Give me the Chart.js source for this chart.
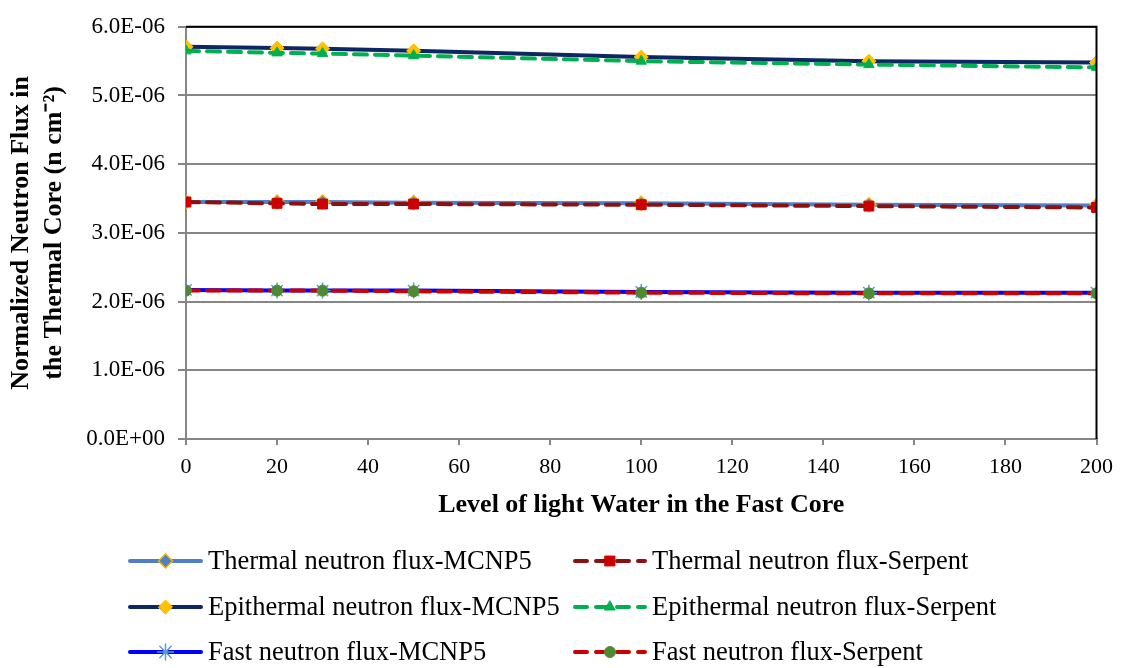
<!DOCTYPE html>
<html>
<head>
<meta charset="utf-8">
<script src="https://cdn.jsdelivr.net/npm/chart.js@4/dist/chart.umd.min.js"></script>
<style>
  html, body { margin: 0; padding: 0; background: #ffffff; }
  #wrap { width: 1122px; height: 668px; position: relative; }
</style>
</head>
<body>
<div id="wrap"><canvas id="c" width="1122" height="668"></canvas></div>
<script>
// ---- data ----
const levels = [0, 20, 30, 50, 100, 150, 200];
const thermalMCNP5 = [3.45e-6, 3.45e-6, 3.45e-6, 3.44e-6, 3.43e-6, 3.41e-6, 3.40e-6];
const thermalSerpent = [3.45e-6, 3.43e-6, 3.42e-6, 3.42e-6, 3.41e-6, 3.39e-6, 3.37e-6];
const epithermalMCNP5 = [5.71e-6, 5.69e-6, 5.68e-6, 5.65e-6, 5.56e-6, 5.50e-6, 5.48e-6];
const epithermalSerpent = [5.65e-6, 5.62e-6, 5.61e-6, 5.58e-6, 5.50e-6, 5.45e-6, 5.41e-6];
const fastMCNP5 = [2.17e-6, 2.16e-6, 2.16e-6, 2.16e-6, 2.14e-6, 2.13e-6, 2.13e-6];
const fastSerpent = [2.16e-6, 2.16e-6, 2.16e-6, 2.15e-6, 2.13e-6, 2.12e-6, 2.12e-6];
const seriesNames = [
  'Thermal neutron flux-MCNP5', 'Thermal neutron flux-Serpent',
  'Epithermal neutron flux-MCNP5', 'Epithermal neutron flux-Serpent',
  'Fast neutron flux-MCNP5', 'Fast neutron flux-Serpent'
];
const xTitle = 'Level of light Water in the Fast Core';
const yTitle = ['Normalized Neutron Flux in', 'the Thermal Core (n cm\u207B\u00B2)'];

function pts(vals) { return levels.map((x, i) => ({ x: x, y: vals[i] })); }

const SERIF = '"Liberation Serif", "Times New Roman", serif';

const datasets = [
  { label: seriesNames[0], data: pts(thermalMCNP5), borderColor: '#4F7FC8', borderWidth: 4,
    pointStyle: 'rectRot', pointRadius: 7, pointBackgroundColor: '#4F7FC8', pointBorderColor: '#F0B400', pointBorderWidth: 1.5, order: 2 },
  { label: seriesNames[1], data: pts(thermalSerpent), borderColor: '#8B1010', borderWidth: 4, borderDash: [13, 8],
    borderCapStyle: 'round',
    pointStyle: 'rect', pointRadius: 7, pointBackgroundColor: '#CC0000', pointBorderColor: '#CC0000', pointBorderWidth: 1, order: 1 },
  { label: seriesNames[2], data: pts(epithermalMCNP5), borderColor: '#0E2661', borderWidth: 4,
    pointStyle: 'rectRot', pointRadius: 7, pointBackgroundColor: '#FFC000', pointBorderColor: '#FFC000', pointBorderWidth: 1, order: 2 },
  { label: seriesNames[3], data: pts(epithermalSerpent), borderColor: '#00B050', borderWidth: 4, borderDash: [13, 8],
    borderCapStyle: 'round',
    pointStyle: 'triangle', pointRadius: 6, pointBackgroundColor: '#00B050', pointBorderColor: '#00B050', pointBorderWidth: 1, order: 1 },
  { label: seriesNames[4], data: pts(fastMCNP5), borderColor: '#0000FF', borderWidth: 4,
    pointStyle: 'star', pointRadius: 8, pointBackgroundColor: '#5B9BD5', pointBorderColor: '#5B9BD5', pointBorderWidth: 1.5, order: 2 },
  { label: seriesNames[5], data: pts(fastSerpent), borderColor: '#CC0000', borderWidth: 4, borderDash: [13, 8],
    borderCapStyle: 'round',
    pointStyle: 'circle', pointRadius: 5.5, pointBackgroundColor: '#4E8A34', pointBorderColor: '#4E8A34', pointBorderWidth: 1, order: 1 }
];

function fmtExp(v) {
  if (Math.abs(v) < 1e-20) return '0.0E+00';
  const s = v.toExponential(1); // e.g. 6.0e-6
  const m = s.split('e');
  let e = parseInt(m[1], 10);
  const sign = e < 0 ? '-' : '+';
  e = Math.abs(e);
  return m[0] + 'E' + sign + (e < 10 ? '0' + e : '' + e);
}

// frame (top & right black border) + custom legend
const framePlugin = {
  id: 'frame',
  afterDatasetsDraw(chart) {
    const { ctx, chartArea: a } = chart;
    ctx.save();
    ctx.strokeStyle = '#000000';
    ctx.lineWidth = 2;
    ctx.beginPath();
    ctx.moveTo(a.left, a.top);
    ctx.lineTo(a.right, a.top);
    ctx.lineTo(a.right, a.bottom);
    ctx.stroke();
    ctx.restore();
  }
};

const legendPlugin = {
  id: 'customLegend',
  afterDraw(chart) {
    const ctx = chart.ctx;
    const rows = [561, 607, 652];
    const cols = [{ x0: 130, x1: 201, tx: 208 }, { x0: 575, x1: 645, tx: 652 }];
    ctx.save();
    chart.data.datasets.forEach((ds, i) => {
      const col = cols[i % 2];
      const y = rows[Math.floor(i / 2)];
      ctx.save();
      ctx.strokeStyle = ds.borderColor;
      ctx.lineWidth = ds.borderWidth;
      ctx.lineCap = 'round';
      if (ds.borderDash) ctx.setLineDash([12, 9]); else ctx.setLineDash([]);
      ctx.beginPath();
      ctx.moveTo(col.x0, y);
      ctx.lineTo(col.x1, y);
      ctx.stroke();
      ctx.setLineDash([]);
      ctx.fillStyle = ds.pointBackgroundColor;
      ctx.strokeStyle = ds.pointBorderColor;
      ctx.lineWidth = ds.pointBorderWidth;
      Chart.helpers.drawPoint(ctx, { pointStyle: ds.pointStyle, radius: ds.pointRadius, borderWidth: ds.pointBorderWidth, rotation: 0 },
        (col.x0 + col.x1) / 2, y);
      ctx.restore();
      ctx.fillStyle = '#000000';
      ctx.font = '26.5px ' + SERIF;
      ctx.textBaseline = 'middle';
      ctx.textAlign = 'left';
      ctx.fillText(ds.label, col.tx, y + 1);
    });
    ctx.restore();
  }
};

new Chart(document.getElementById('c'), {
  type: 'line',
  data: { datasets: datasets },
  plugins: [framePlugin, legendPlugin],
  options: {
    responsive: false,
    animation: false,
    layout: { padding: { left: 0, top: 16, right: 22, bottom: 145 } },
    plugins: { legend: { display: false }, tooltip: { enabled: false } },
    elements: { line: { tension: 0, fill: false } },
    scales: {
      x: {
        type: 'linear', min: 0, max: 200,
        ticks: { stepSize: 20, color: '#000000', font: { family: SERIF, size: 22 }, padding: 9, maxRotation: 0 },
        grid: { display: true, drawOnChartArea: false, drawTicks: true, tickLength: 6, color: '#868686', lineWidth: 2 },
        border: { display: true, color: '#868686', width: 2 },
        title: { display: true, text: xTitle, color: '#000000', font: { family: SERIF, size: 26, weight: 'bold', lineHeight: 1.2 }, padding: { top: 0, bottom: 2 } },
        afterFit(scale) { scale.height = 84; }
      },
      y: {
        type: 'linear', min: 0, max: 6e-6,
        ticks: { stepSize: 1e-6, color: '#000000', font: { family: SERIF, size: 23 }, padding: 13, callback: (v) => fmtExp(v) },
        grid: { display: true, drawOnChartArea: true, drawTicks: true, tickLength: 8, color: '#868686', lineWidth: 2 },
        border: { display: true, color: '#868686', width: 2 },
        title: { display: true, text: yTitle, color: '#000000', font: { family: SERIF, size: 26, weight: 'bold', lineHeight: 1.27 }, padding: { top: 5, bottom: 0 } },
        afterFit(scale) { scale.width = 186; }
      }
    }
  }
});
</script>
</body>
</html>
